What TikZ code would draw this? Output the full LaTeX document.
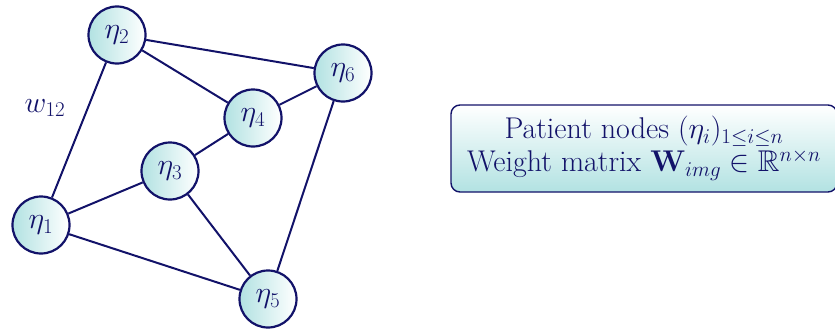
\RequirePackage{fix-cm}
\documentclass[tikz,border=0pt]{standalone}
\usepackage{amsmath,amssymb}
\definecolor{navyline}{RGB}{18,18,105}
\definecolor{tealfill}{RGB}{178,226,226}
\begin{document}
\begin{tikzpicture}[x=1pt,y=1pt,
  pnode/.style={circle,draw=navyline,line width=2.2pt,minimum size=57pt,inner sep=0pt,
    left color=tealfill,right color=white,text=navyline,font=\fontsize{30}{33}\selectfont},
  edge/.style={draw=navyline,line width=2pt},
  infobox/.style={draw=navyline,line width=1.4pt,rounded corners=9pt,top color=white,bottom color=tealfill,
    minimum width=386pt,minimum height=87pt,align=center,text=navyline,font=\fontsize{30}{33}\selectfont}]
\useasboundingbox (0,0) rectangle (835,-332);
\node[pnode] (n1) at (41,-225) {$\eta_1$};
\node[pnode] (n2) at (117,-35) {$\eta_2$};
\node[pnode] (n3) at (170,-171) {$\eta_3$};
\node[pnode] (n4) at (253,-118) {$\eta_4$};
\node[pnode] (n5) at (268,-299) {$\eta_5$};
\node[pnode] (n6) at (343,-73) {$\eta_6$};
\node[text=navyline,font=\fontsize{30}{33}\selectfont] (w) at (45,-108) {$w_{12}$};
\draw[edge] (n1) -- (n2);
\draw[edge] (n1) -- (n3);
\draw[edge] (n1) -- (n5);
\draw[edge] (n2) -- (n4);
\draw[edge] (n2) -- (n6);
\draw[edge] (n3) -- (n4);
\draw[edge] (n3) -- (n5);
\draw[edge] (n4) -- (n6);
\draw[edge] (n5) -- (n6);
\node[infobox] (box) at (644,-148.5) {Patient nodes $(\eta_i)_{1\leq i\leq n}$\\ Weight matrix $\mathbf{W}_{img}\in\mathbb{R}^{n\times n}$};
\end{tikzpicture}
\end{document}
